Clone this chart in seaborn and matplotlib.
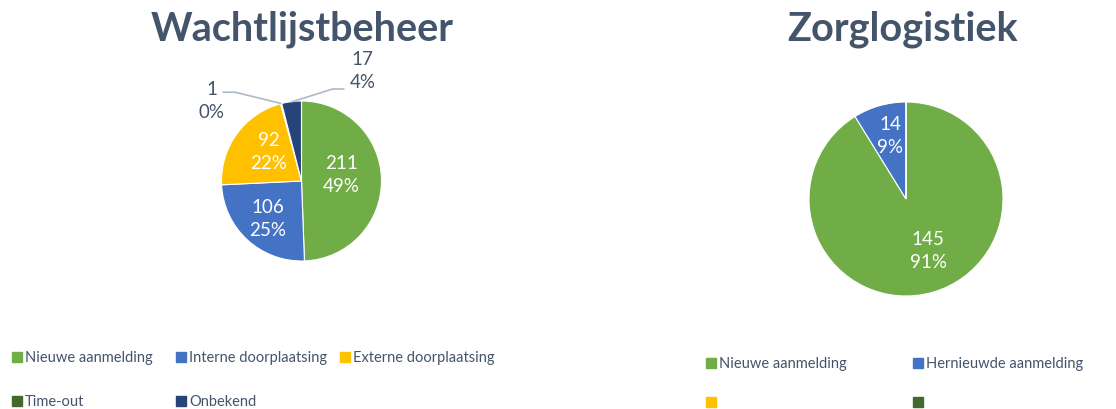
import matplotlib
matplotlib.use("Agg")
import matplotlib.pyplot as plt
import seaborn as sns
from matplotlib.patches import Rectangle

sns.set_theme(style="white")
plt.rcParams['font.family'] = ['Lato', 'DejaVu Sans']

# data
wl_labels = ["Nieuwe aanmelding", "Interne doorplaatsing", "Externe doorplaatsing", "Time-out", "Onbekend"]
wl_values = [211, 106, 92, 1, 17]
wl_pcts = ["49%", "25%", "22%", "0%", "4%"]

zl_labels = ["Nieuwe aanmelding", "Hernieuwde aanmelding", "", ""]
zl_values = [145, 14, 0, 0]
zl_pcts = ["91%", "9%", "", ""]

colors = ["#70AD47", "#4472C4", "#FFC000", "#43682B", "#264478"]
txt = "#44546A"
W, H = 1116, 410

fig = plt.figure(figsize=(W / 100, H / 100), dpi=100)


def px_axes(cx, cy, r):
    return fig.add_axes([(cx - r) / W, 1 - (cy + r) / H, 2 * r / W, 2 * r / H])


# --- Wachtlijstbeheer
ax1 = px_axes(301.5, 182, 80)
ax1.pie(wl_values, colors=colors, startangle=90, counterclock=False,
        wedgeprops=dict(edgecolor="white", linewidth=0.8))
ax1.set_xlim(-1, 1)
ax1.set_ylim(-1, 1)
ax1.axis("off")
# label positions (in radius units)
wl_pos = [(0.50, 0.09), (-0.42, -0.46), (-0.41, 0.375), (-1.12, 1.01), (0.76, 1.39)]
for i, (v, p) in enumerate(zip(wl_values, wl_pcts)):
    x, y = wl_pos[i]
    inside = x * x + y * y < 1
    ax1.text(x, y, f"{v}\n{p}", ha="center", va="center", fontsize=13.5,
             color="white" if inside else txt, linespacing=1.4, clip_on=False)
# leader lines for small slices
ax1.plot([-0.98, -0.83, -0.26], [1.11, 1.11, 0.97], color="#ADB9CA", lw=1.2, clip_on=False)
ax1.plot([0.53, 0.39, -0.12], [1.15, 1.15, 0.99], color="#ADB9CA", lw=1.2, clip_on=False)

# --- Zorglogistiek
ax2 = px_axes(906, 200, 97)
ax2.pie(zl_values, colors=colors[:4], startangle=90, counterclock=False,
        wedgeprops=dict(edgecolor="white", linewidth=0.8))
ax2.set_xlim(-1, 1)
ax2.set_ylim(-1, 1)
ax2.axis("off")
zl_pos = [(0.227, -0.526), (-0.165, 0.66)]
for i in range(2):
    x, y = zl_pos[i]
    ax2.text(x, y, f"{zl_values[i]}\n{zl_pcts[i]}", ha="center", va="center",
             fontsize=13.5, color="white", linespacing=1.4)

# --- overlay for titles and legends
ov = fig.add_axes([0, 0, 1, 1])
ov.set_xlim(0, W)
ov.set_ylim(H, 0)
ov.axis("off")
ov.patch.set_alpha(0)

ov.text(302, 29, "Wachtlijstbeheer", ha="center", va="center", fontsize=28.5,
        fontweight="bold", color=txt)
ov.text(903, 29, "Zorglogistiek", ha="center", va="center", fontsize=28.5,
        fontweight="bold", color=txt)


def legend_item(x, y, color, label):
    ov.add_patch(Rectangle((x, y - 5), 10, 10, color=color))
    if label:
        ov.text(x + 13, y, label, ha="left", va="center", fontsize=10.5, color=txt)


left_pos = [(12, 358), (176, 358), (340, 358), (12, 402), (176, 402)]
for (x, y), c, lab in zip(left_pos, colors, wl_labels):
    legend_item(x, y, c, lab)

right_pos = [(706, 364), (913, 364), (706, 403), (913, 403)]
for (x, y), c, lab in zip(right_pos, colors[:4], zl_labels):
    legend_item(x, y, c, lab)

fig.savefig("out.png", dpi=100)
